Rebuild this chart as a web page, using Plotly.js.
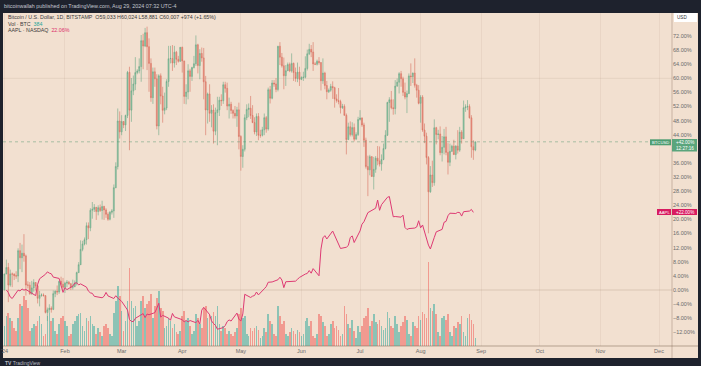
<!DOCTYPE html>
<html><head><meta charset="utf-8">
<script src="https://cdn.plot.ly/plotly-3.0.1.min.js"></script>
<style>html,body{margin:0;padding:0;background:#1e222d;overflow:hidden}#chart{width:701px;height:366px}</style>
</head><body><div id="chart"></div>
<script>
// ---------------- DATA ----------------
const btcStart = '2024-01-01';
const btcFirstOpen = 42280;
const btcBase = 42258;       // 0% reference for the percentage scale
const btcClose = [
44180,44950,42850,44180,44160,43970,43930,46970,46120,46660,46340,42850,42840,41800,42510,43150,42740,41260,41620,41670,41580,39570,39890,40080,39940,41820,42120,42030,43300,42950,42580,
43080,43190,43000,42580,42660,43090,44340,45290,47130,47770,48290,49960,49700,51800,51920,52160,51660,52120,51780,52260,51850,51320,50730,51570,51730,54520,57050,62500,61200,
62440,62030,63170,68330,63800,66110,66930,68300,68500,69020,72120,71480,73080,71400,69400,65300,68390,67550,61910,67910,65490,63780,64060,67230,69960,69990,69450,70740,69890,69650,71330,
69700,65450,65970,68510,67840,68900,69360,71620,69140,70590,70060,67200,63820,65740,63420,63810,61280,63510,63840,64990,64930,66840,66410,64290,64500,63760,63420,63110,63840,60640,
58250,59120,62890,63890,64030,63160,62310,61190,63050,60790,60790,61450,62900,61550,66250,65230,67050,66940,66280,71450,70140,69120,67930,68520,69270,68510,69400,68300,67590,68360,67490,
67710,67750,68800,70550,71080,70760,69340,69300,69650,69500,67320,68240,66750,66010,66190,66640,66490,65150,64960,64830,64100,64250,63180,60280,61800,60870,61710,60320,60890,62680,
62850,62030,60200,57040,56660,58230,55850,56710,58050,57720,57340,57890,59200,60800,64720,65040,64090,63990,66680,67150,68170,67560,65930,65370,65780,67900,67810,68240,66780,66190,64620,
65360,61420,60680,58120,54020,56030,55120,61690,60880,60940,58710,59350,60600,58740,57560,58870,59480,58480,59490,59010,61160,60380,64090,64180,64250,62880,59420,59033,60007
];
const btcHigh = [
44200,45900,45500,44700,44350,44250,44500,47250,47900,47700,48950,46500,43300,43200,43350,43550,43200,42900,42150,41850,41850,41650,40150,40550,40300,42200,42200,42800,43300,43850,43700,
43250,43450,43350,43100,43500,43400,44450,45600,48200,48150,48550,50350,50350,52050,52800,52550,52200,52400,52500,52950,52350,52050,51550,51700,51950,54900,57550,64000,63650,
63200,62450,63250,68500,69000,67650,67950,70150,68700,70000,72800,72950,73650,73800,72400,70000,68900,68900,68100,68100,68200,66600,65900,67500,71500,71500,71600,71500,70900,70300,71350,
71400,69700,66900,69300,68750,69000,70300,72750,71750,71100,71300,71250,67900,65900,66900,64400,64500,64100,65400,65400,65700,67200,67200,67100,65300,64800,63900,64300,64200,64700,
60800,59600,63300,64500,64600,65500,64400,62950,63400,63450,61450,61800,63400,63100,66500,66700,67400,67400,67650,71500,71950,70650,70100,69200,69500,69500,70600,69500,68900,69500,69000,
67850,68400,70250,71050,71750,71600,71950,69550,69850,70150,69550,70000,68400,67300,66400,66950,67250,66600,65700,66450,65050,64550,64500,63400,62300,62450,62350,62200,61150,63000,
63800,62950,62300,60500,58350,58450,58300,58200,58300,59500,59450,58500,59800,61400,64800,65350,66100,65100,67400,67600,68350,68500,67800,67100,66150,68200,69400,68300,70000,66950,66800,
65600,65600,62200,61100,58300,57100,57750,62700,61800,61450,61850,60700,61550,61800,59850,59800,59650,60250,59600,61400,61800,61400,64950,64500,65000,64500,63200,60200,60024
];
const btcLow = [
42200,44150,40800,42650,42600,43450,43600,43200,44750,44400,45650,41600,42450,41700,41700,42050,42200,40650,40300,41450,41500,39450,38550,39500,39550,39850,41400,41650,41800,42700,42300,
41900,42600,42900,42250,42300,42600,42800,44300,45250,46900,47600,47700,48350,49300,50800,51600,50650,51200,51600,50700,50650,50900,50550,50600,51300,50900,54450,56700,60400,
60800,61650,61300,62850,59000,62400,65600,66200,68100,68200,67200,68700,71350,68600,66000,64800,64550,66600,61500,60800,64500,62300,63300,63800,66600,69400,68500,68900,69200,69500,69600,
68300,64550,64500,65100,66000,67300,68800,69100,68200,67500,69600,65100,60800,62200,62400,61750,59800,60800,59600,63100,64300,64550,65900,63800,62800,63350,62800,62800,61800,59100,
56550,56900,58850,62600,62950,62750,62250,60900,60700,60200,60500,60650,60800,61100,61350,64600,65100,66600,65950,66050,69200,68900,66300,66700,68500,68350,68300,67300,67200,67150,66700,
67400,67300,67600,68550,70400,70150,68500,69200,69150,69250,66150,66950,66300,65100,65850,66000,65150,64100,64700,64500,63400,63950,63150,58500,60300,60650,60650,60050,60300,60700,
62550,61800,59400,56800,53500,56000,55800,54300,56300,57200,57050,56550,57800,59100,60700,62400,63900,63250,63300,66600,65800,66600,65500,65100,63450,65750,66700,67050,66500,65300,64500,
62300,61200,59850,57300,49050,53900,54600,54750,59700,60300,58400,57650,58500,58400,56100,57100,58800,58450,57900,58600,58800,59800,60350,63600,63800,62800,58100,57850,58881
];
const btcVolume = [
1000,1500,1650,1400,1250,900,750,1400,2100,2000,2500,2300,1900,750,900,1100,1000,1250,1500,1100,500,600,1500,1650,1250,1400,750,600,1100,1400,1500,
1250,1000,500,600,1100,1250,1500,1600,1650,1000,750,1400,1250,1500,1100,1000,600,900,700,500,1000,1100,900,600,500,1650,2250,3000,2500,
1750,750,1250,2250,3900,2250,1900,2000,1000,1250,2250,2500,1900,2100,2250,2600,1400,2000,2400,2750,1900,1750,900,1000,1400,1250,900,1100,700,600,750,
1500,1750,1250,1400,1000,600,750,1600,1400,1100,900,1900,2000,1400,1600,1500,1700,1500,2000,1100,750,1000,900,600,750,600,500,700,900,1600,
1900,1400,1500,600,500,900,750,900,1000,800,400,500,900,700,1600,1250,1100,600,500,2000,1500,1100,1250,600,500,700,900,750,600,800,700,
500,600,1250,1400,1000,1250,500,400,600,1600,1500,1200,1000,500,600,1100,1250,900,1000,800,500,600,2000,1600,1100,900,1300,750,400,1000,
700,1000,1400,1500,1900,1000,1250,1600,1200,1100,1300,1000,800,900,1700,1400,1000,900,1500,1100,700,1000,1200,1500,1300,600,500,1200,1000,900,1500,
1300,1700,1600,1400,4200,1900,1750,2100,1600,700,500,1400,1500,1300,1600,700,500,1000,900,1200,1100,1500,700,500,1400,1600,1300,1100,384
];
const aaplBase = 185.64;
const aaplDates = [
'01-02','01-03','01-04','01-05','01-08','01-09','01-10','01-11','01-12','01-16','01-17','01-18','01-19','01-22','01-23','01-24','01-25','01-26','01-29','01-30','01-31',
'02-01','02-02','02-05','02-06','02-07','02-08','02-09','02-12','02-13','02-14','02-15','02-16','02-20','02-21','02-22','02-23','02-26','02-27','02-28','02-29',
'03-01','03-04','03-05','03-06','03-07','03-08','03-11','03-12','03-13','03-14','03-15','03-18','03-19','03-20','03-21','03-22','03-25','03-26','03-27','03-28',
'04-01','04-02','04-03','04-04','04-05','04-08','04-09','04-10','04-11','04-12','04-15','04-16','04-17','04-18','04-19','04-22','04-23','04-24','04-25','04-26','04-29','04-30',
'05-01','05-02','05-03','05-06','05-07','05-08','05-09','05-10','05-13','05-14','05-15','05-16','05-17','05-20','05-21','05-22','05-23','05-24','05-28','05-29','05-30','05-31',
'06-03','06-04','06-05','06-06','06-07','06-10','06-11','06-12','06-13','06-14','06-17','06-18','06-20','06-21','06-24','06-25','06-26','06-27','06-28',
'07-01','07-02','07-03','07-05','07-08','07-09','07-10','07-11','07-12','07-15','07-16','07-17','07-18','07-19','07-22','07-23','07-24','07-25','07-26','07-29','07-30','07-31',
'08-01','08-02','08-05','08-06','08-07','08-08','08-09','08-12','08-13','08-14','08-15','08-16','08-19','08-20','08-21','08-22','08-23','08-26','08-27','08-28'
];
const aaplClose = [
185.64,184.25,181.91,181.18,185.56,185.14,186.19,185.59,185.92,183.63,182.68,188.63,191.56,193.89,195.18,194.50,194.17,192.42,191.73,188.04,184.40,
186.86,185.85,187.68,189.30,189.41,188.32,188.85,187.15,185.04,184.15,183.86,182.31,181.56,182.32,184.37,182.52,181.16,182.63,181.42,180.75,
179.66,175.10,170.12,169.12,169.00,170.73,172.75,173.23,171.13,173.00,172.62,173.72,176.08,178.67,171.37,172.28,170.85,169.71,173.31,171.48,
170.03,168.84,169.65,168.82,169.58,168.45,169.67,167.78,175.04,176.55,172.69,169.38,168.00,167.04,165.00,165.84,166.90,169.02,169.89,169.30,173.50,170.33,
169.30,173.03,183.38,181.71,182.40,182.74,184.57,183.05,186.28,187.43,189.72,189.84,189.87,191.04,192.35,190.90,186.88,189.98,189.99,190.29,191.29,192.25,
194.03,194.35,195.87,194.48,196.89,193.12,207.15,213.07,214.24,212.49,216.67,214.29,209.68,207.49,208.14,209.07,213.25,214.10,210.62,
216.75,220.27,221.55,226.34,227.82,228.68,232.98,227.57,230.54,234.40,234.82,228.88,224.18,224.31,223.96,225.01,218.54,217.49,217.96,218.24,218.80,222.08,
218.36,219.86,209.27,207.23,209.82,213.31,216.24,217.53,221.27,221.72,224.72,226.05,225.89,226.51,226.40,224.53,226.84,227.18,228.03,226.49
];
const monthTicks = ['2024-01-01','2024-02-01','2024-03-01','2024-04-01','2024-05-01','2024-06-01','2024-07-01','2024-08-01','2024-09-01','2024-10-01','2024-11-01','2024-12-01'];
const monthLabels = ["'24",'Feb','Mar','Apr','May','Jun','Jul','Aug','Sep','Oct','Nov','Dec'];
const pctTicks = [-12,-8,-4,0,4,8,12,16,20,24,28,32,36,44,48,52,56,60,64,68,72];

// ---------------- BUILD ----------------
const DAY = 86400000;
const t0 = Date.parse(btcStart + 'T00:00:00Z');
const btcDates = btcClose.map((_, i) => new Date(t0 + i * DAY).toISOString().slice(0, 10));
const btcOpen = btcClose.map((c, i) => i === 0 ? btcFirstOpen : btcClose[i - 1]);
const pct = (v, b) => (v / b - 1) * 100;
const volColors = btcClose.map((c, i) => c >= btcOpen[i] ? 'rgba(38,166,154,0.5)' : 'rgba(239,83,80,0.5)');

// pixel helpers for layout positions (plot area x 3..672, y 13..346)
const PL = 3, PR = 672, PT = 13, PB = 346;
const px = X => (X - PL) / (PR - PL);
const py = Y => (PB - Y) / (PB - PT);

const traces = [
  { type: 'bar', x: btcDates, y: btcVolume, width: DAY * 0.85, marker: { color: volColors, line: { width: 0 } },
    yaxis: 'y', hoverinfo: 'skip' },
  { type: 'scatter', mode: 'lines', x: aaplDates.map(d => '2024-' + d), y: aaplClose.map(v => pct(v, aaplBase)),
    yaxis: 'y2', line: { color: '#de3a73', width: 1 }, hoverinfo: 'skip' },
  { type: 'candlestick', x: btcDates,
    open: btcOpen.map(v => pct(v, btcBase)), high: btcHigh.map(v => pct(v, btcBase)),
    low: btcLow.map(v => pct(v, btcBase)), close: btcClose.map(v => pct(v, btcBase)),
    yaxis: 'y2',
    increasing: { line: { color: '#6aa886', width: 0.6 }, fillcolor: '#8fc6a5' },
    decreasing: { line: { color: '#d6705f', width: 0.6 }, fillcolor: '#ec9483' },
    hoverinfo: 'skip' }
];

const bg = '#f2e0d0';
const tickFont = { family: 'Liberation Sans, Arial, sans-serif', size: 5.5, color: '#6b6b6b' };
const F = 'Liberation Sans, Arial, sans-serif';

const shapes = [
  { type: 'rect', xref: 'paper', yref: 'paper', x0: px(3), x1: px(698), y0: py(358), y1: py(13), fillcolor: bg, line: { width: 0 }, layer: 'below' },
  { type: 'line', xref: 'paper', yref: 'paper', x0: px(672), x1: px(672), y0: py(358), y1: py(13), line: { color: 'rgba(120,95,75,0.35)', width: 1 } },
  { type: 'line', xref: 'paper', yref: 'paper', x0: px(3), x1: px(698), y0: py(346), y1: py(346), line: { color: 'rgba(120,95,75,0.5)', width: 1 } },
  { type: 'line', xref: 'paper', yref: 'y2', x0: 0, x1: 1, y0: 0, y1: 0, line: { color: 'rgba(120,95,75,0.2)', width: 1 }, layer: 'below' },
  { type: 'line', xref: 'paper', yref: 'y2', x0: 0, x1: 1, y0: 60, y1: 60, line: { color: 'rgba(120,95,75,0.1)', width: 1 }, layer: 'below' },
  { type: 'line', xref: 'paper', yref: 'y2', x0: 0, x1: px(650), y0: pct(btcClose[btcClose.length - 1], btcBase), y1: pct(btcClose[btcClose.length - 1], btcBase),
    line: { color: 'rgba(78,150,110,0.45)', width: 1, dash: 'dot' } },
  { type: 'rect', xref: 'paper', yref: 'paper', x0: px(650), x1: px(671), y0: py(145.3), y1: py(139.3), fillcolor: '#4e9d72', line: { width: 0 } },
  { type: 'rect', xref: 'paper', yref: 'paper', x0: px(672), x1: px(697), y0: py(151.5), y1: py(139), fillcolor: '#5aa57c', line: { width: 0 } },
  { type: 'rect', xref: 'paper', yref: 'paper', x0: px(657), x1: px(671), y0: py(215), y1: py(209), fillcolor: '#d81b60', line: { width: 0 } },
  { type: 'rect', xref: 'paper', yref: 'paper', x0: px(672), x1: px(697), y0: py(215), y1: py(209), fillcolor: '#d81b60', line: { width: 0 } },
  { type: 'rect', xref: 'paper', yref: 'paper', x0: px(674), x1: px(697), y0: py(22), y1: py(13), fillcolor: '#ffffff', line: { width: 0 } }
];

const ann = (x, y, text, size, color, anchor) => ({ xref: 'paper', yref: 'paper', x: px(x), y: py(y), text: text,
  showarrow: false, xanchor: anchor || 'left', yanchor: 'middle', font: { family: F, size: size, color: color }, borderpad: 0 });

const annotations = [
  ann(3, 6, 'bitcoinwallah published on TradingView.com, Aug 29, 2024 07:32 UTC-4', 5.4, '#c3c6ce'),
  ann(6.5, 16.5, 'Bitcoin / U.S. Dollar, 1D, BITSTAMP&nbsp;&nbsp;O59,033 H60,024 L58,881 C60,007 +974 (+1.65%)', 5.3, '#3a3a3a'),
  ann(6.5, 23.5, 'Vol · BTC&nbsp;&nbsp;<span style="color:#26a69a">384</span>', 5.3, '#3a3a3a'),
  ann(6.5, 30.5, 'AAPL · NASDAQ&nbsp;&nbsp;<span style="color:#dc2f6b">22.06%</span>', 5.3, '#3a3a3a'),
  ann(660.5, 142.3, 'BTCUSD', 4.2, '#ffffff', 'center'),
  ann(684.5, 142.3, '+42.00%', 4.6, '#ffffff', 'center'),
  ann(684.5, 148, '12:27:16', 4.6, '#ffffff', 'center'),
  ann(664, 212, 'AAPL', 4.2, '#ffffff', 'center'),
  ann(684.5, 212, '+22.00%', 4.6, '#ffffff', 'center'),
  ann(682, 17.5, 'USD', 4.6, '#333333', 'center'),
  ann(4, 362.5, '<b>TV</b> TradingView', 5, '#b8bbc4')
];

const layout = {
  width: 701, height: 366,
  margin: { l: PL, r: 701 - PR, t: PT, b: 366 - PB, pad: 0 },
  paper_bgcolor: '#1e222d', plot_bgcolor: bg,
  showlegend: false,
  xaxis: { type: 'date', range: ['2023-12-31 06:43', '2024-12-07 15:36'], tickvals: monthTicks, ticktext: monthLabels,
    showgrid: true, gridcolor: 'rgba(140,110,90,0.09)', zeroline: false, showline: false, ticks: '',
    tickfont: tickFont, rangeslider: { visible: false }, fixedrange: true },
  yaxis: { range: [0, 16650], visible: false, showgrid: false, zeroline: false, fixedrange: true },
  yaxis2: { overlaying: 'y', side: 'right', range: [-15.873, 78.515], tickvals: pctTicks,
    ticktext: pctTicks.map(v => (v < 0 ? '\u2212' : '') + Math.abs(v).toFixed(2) + '%'),
    showgrid: false, zeroline: false, showline: false, ticks: '', tickfont: tickFont, fixedrange: true },
  shapes: shapes,
  annotations: annotations,
  bargap: 0
};

Plotly.newPlot('chart', traces, layout, { staticPlot: true, displayModeBar: false });
</script></body></html>
